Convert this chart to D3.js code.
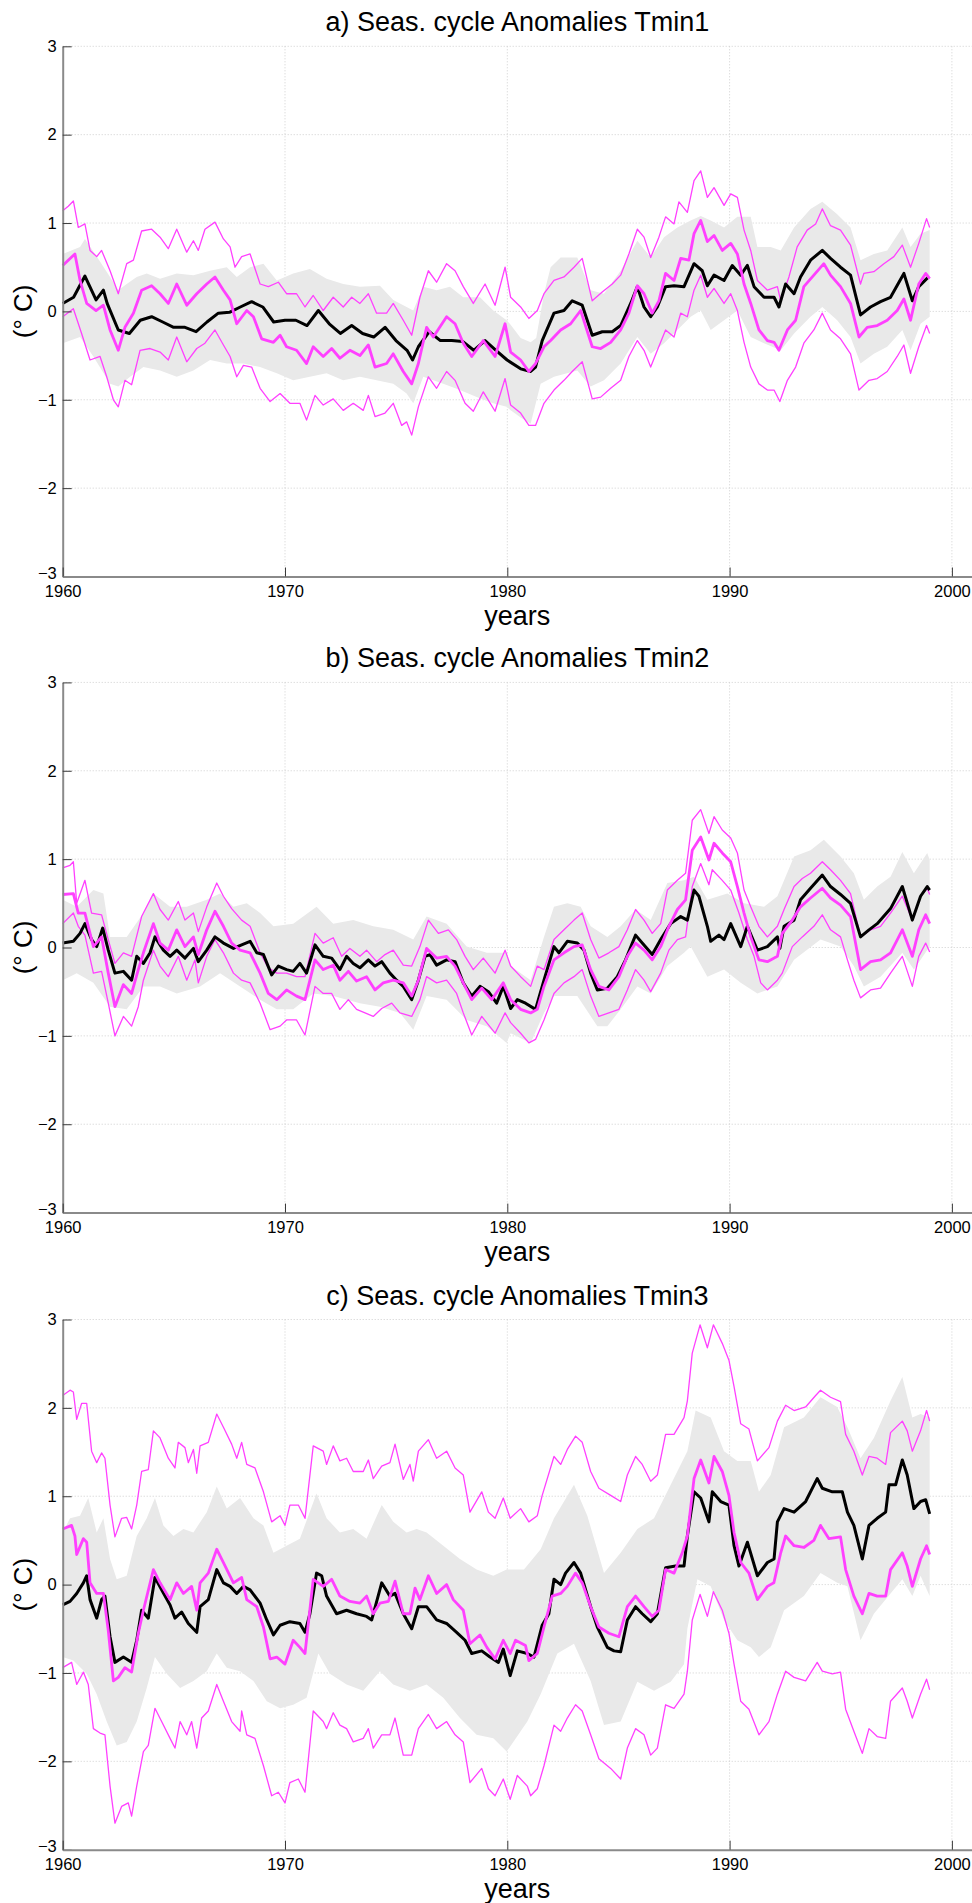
<!DOCTYPE html>
<html>
<head>
<meta charset="utf-8">
<script src="https://d3js.org/d3.v7.min.js"></script>
<style>
  body { margin: 0; background: #fff; }
  svg { display: block; }
  text { font-family: "Liberation Sans", Arial, Helvetica, sans-serif; fill: #000; }
</style>
</head>
<body>
<svg id="chart" width="972" height="1903"></svg>
<script>
// ---- data: [year, value in deg C] ----
var titles = ["a) Seas. cycle Anomalies Tmin1", "b) Seas. cycle Anomalies Tmin2", "c) Seas. cycle Anomalies Tmin3"];
var yTicks = [-3, -2, -1, 0, 1, 2, 3];
var xTicks = [1960, 1970, 1980, 1990, 2000];

// panel a
var obs1 = [[1960.0,0.09],[1960.49,0.16],[1961.0,0.4],[1961.5,0.13],[1961.83,0.24],[1962.0,0.09],[1962.5,-0.21],[1963.0,-0.25],[1963.49,-0.1],[1964.0,-0.06],[1964.5,-0.12],[1964.99,-0.18],[1965.5,-0.18],[1966.0,-0.23],[1966.49,-0.12],[1967.0,-0.02],[1967.5,-0.01],[1967.99,0.05],[1968.5,0.11],[1969.0,0.05],[1969.49,-0.12],[1970.0,-0.1],[1970.49,-0.1],[1970.99,-0.16],[1971.5,0.01],[1971.99,-0.14],[1972.49,-0.25],[1973.0,-0.16],[1973.49,-0.25],[1973.99,-0.29],[1974.5,-0.18],[1974.99,-0.33],[1975.49,-0.44],[1975.74,-0.55],[1976.0,-0.4],[1976.49,-0.23],[1976.99,-0.33],[1977.5,-0.33],[1977.99,-0.34],[1978.49,-0.44],[1979.0,-0.33],[1979.49,-0.44],[1979.99,-0.55],[1980.6,-0.65],[1981.05,-0.68],[1981.27,-0.63],[1981.57,-0.33],[1982.1,-0.02],[1982.55,0.01],[1982.92,0.12],[1983.37,0.07],[1983.82,-0.27],[1984.27,-0.23],[1984.72,-0.23],[1985.1,-0.16],[1985.55,0.09],[1985.85,0.28],[1986.15,0.05],[1986.45,-0.06],[1986.75,0.05],[1987.12,0.28],[1987.5,0.29],[1987.95,0.28],[1988.4,0.54],[1988.77,0.46],[1989.0,0.29],[1989.3,0.41],[1989.75,0.35],[1990.12,0.52],[1990.5,0.41],[1990.8,0.52],[1991.1,0.28],[1991.55,0.16],[1992.0,0.16],[1992.22,0.05],[1992.52,0.31],[1992.9,0.2],[1993.19,0.39],[1993.64,0.58],[1994.17,0.69],[1994.54,0.6],[1994.99,0.5],[1995.44,0.41],[1995.89,-0.04],[1996.34,0.05],[1996.79,0.11],[1997.24,0.16],[1997.84,0.43],[1998.22,0.12],[1998.51,0.28],[1998.95,0.39]];
var mod1 = [[1960.0,0.52],[1960.55,0.65],[1960.78,0.35],[1961.08,0.09],[1961.5,0.01],[1961.83,0.07],[1962.13,-0.21],[1962.5,-0.44],[1962.8,-0.18],[1963.18,-0.02],[1963.55,0.24],[1964.0,0.29],[1964.38,0.2],[1964.75,0.09],[1965.13,0.31],[1965.58,0.07],[1966.03,0.2],[1966.48,0.31],[1966.85,0.39],[1967.23,0.24],[1967.53,0.13],[1967.83,-0.14],[1968.28,0.01],[1968.58,-0.06],[1968.95,-0.31],[1969.48,-0.35],[1969.78,-0.27],[1970.07,-0.4],[1970.52,-0.44],[1970.97,-0.59],[1971.27,-0.4],[1971.72,-0.51],[1972.1,-0.42],[1972.47,-0.53],[1972.92,-0.44],[1973.37,-0.5],[1973.75,-0.38],[1974.05,-0.63],[1974.57,-0.59],[1974.87,-0.48],[1975.32,-0.68],[1975.7,-0.82],[1976.0,-0.59],[1976.37,-0.18],[1976.67,-0.29],[1977.27,-0.06],[1977.65,-0.14],[1978.02,-0.36],[1978.4,-0.51],[1978.92,-0.33],[1979.45,-0.51],[1979.9,-0.14],[1980.15,-0.46],[1980.6,-0.55],[1980.97,-0.68],[1981.27,-0.59],[1981.65,-0.4],[1981.95,-0.33],[1982.4,-0.21],[1982.85,-0.14],[1983.3,0.01],[1983.82,-0.4],[1984.2,-0.42],[1984.65,-0.35],[1985.1,-0.21],[1985.47,-0.02],[1985.85,0.29],[1986.15,0.2],[1986.52,-0.02],[1986.82,0.12],[1987.12,0.43],[1987.5,0.35],[1987.8,0.6],[1988.17,0.58],[1988.4,0.88],[1988.7,1.03],[1989.0,0.79],[1989.3,0.86],[1989.67,0.69],[1990.05,0.77],[1990.35,0.65],[1990.65,0.31],[1990.95,0.09],[1991.32,-0.21],[1991.7,-0.33],[1992.0,-0.35],[1992.22,-0.44],[1992.6,-0.21],[1992.97,-0.1],[1993.34,0.28],[1993.79,0.41],[1994.24,0.54],[1994.54,0.41],[1994.99,0.28],[1995.44,0.09],[1995.82,-0.29],[1996.19,-0.18],[1996.64,-0.16],[1997.09,-0.1],[1997.54,0.01],[1997.84,0.14],[1998.14,-0.1],[1998.51,0.31],[1998.82,0.43],[1999.0,0.37]];
var hi1 = [[1960.0,1.14],[1960.25,1.19],[1960.48,1.25],[1960.7,0.95],[1961.0,0.99],[1961.23,0.69],[1961.53,0.62],[1961.75,0.69],[1962.13,0.46],[1962.5,0.2],[1962.88,0.54],[1963.18,0.58],[1963.55,0.91],[1964.0,0.93],[1964.38,0.84],[1964.75,0.71],[1965.13,0.93],[1965.58,0.67],[1965.88,0.8],[1966.1,0.69],[1966.4,0.93],[1966.85,1.01],[1967.23,0.82],[1967.53,0.73],[1967.75,0.5],[1968.05,0.62],[1968.43,0.65],[1968.88,0.31],[1969.25,0.28],[1969.7,0.33],[1970.07,0.2],[1970.52,0.2],[1970.9,0.05],[1971.27,0.18],[1971.72,0.01],[1972.17,0.16],[1972.62,0.05],[1973.0,0.16],[1973.37,0.09],[1973.75,0.2],[1974.12,-0.02],[1974.57,-0.02],[1974.87,0.09],[1975.32,-0.1],[1975.7,-0.27],[1976.07,0.16],[1976.45,0.46],[1976.82,0.33],[1977.27,0.54],[1977.65,0.46],[1978.02,0.28],[1978.47,0.09],[1979.0,0.31],[1979.45,0.07],[1979.9,0.5],[1980.15,0.16],[1980.6,0.05],[1980.97,-0.08],[1981.35,0.01],[1981.65,0.2],[1982.1,0.35],[1982.55,0.39],[1983.0,0.5],[1983.37,0.6],[1983.82,0.12],[1984.27,0.22],[1984.72,0.31],[1985.1,0.41],[1985.47,0.65],[1985.85,0.93],[1986.15,0.84],[1986.45,0.61],[1986.82,0.84],[1987.12,1.07],[1987.5,0.99],[1987.72,1.24],[1988.1,1.12],[1988.4,1.48],[1988.7,1.59],[1989.0,1.29],[1989.3,1.4],[1989.75,1.2],[1990.05,1.33],[1990.35,1.29],[1990.65,0.92],[1990.95,0.69],[1991.25,0.35],[1991.7,0.24],[1992.15,0.28],[1992.3,0.12],[1992.67,0.39],[1993.04,0.73],[1993.49,0.92],[1993.87,0.99],[1994.17,1.16],[1994.54,0.97],[1994.99,0.92],[1995.44,0.75],[1995.89,0.31],[1996.04,0.43],[1996.49,0.45],[1996.94,0.54],[1997.39,0.62],[1997.77,0.75],[1998.14,0.5],[1998.51,0.77],[1998.86,1.05],[1999.0,0.95]];
var lo1 = [[1960.0,-0.06],[1960.48,0.03],[1960.85,-0.25],[1961.23,-0.55],[1961.68,-0.51],[1961.98,-0.74],[1962.28,-1.0],[1962.5,-1.08],[1962.8,-0.78],[1963.1,-0.83],[1963.48,-0.44],[1963.93,-0.42],[1964.38,-0.46],[1964.75,-0.55],[1965.13,-0.29],[1965.58,-0.57],[1966.03,-0.42],[1966.4,-0.36],[1966.85,-0.21],[1967.23,-0.38],[1967.53,-0.51],[1967.83,-0.74],[1968.13,-0.61],[1968.5,-0.63],[1968.88,-0.87],[1969.33,-1.02],[1969.78,-0.93],[1970.22,-1.04],[1970.67,-1.04],[1970.97,-1.23],[1971.35,-0.95],[1971.72,-1.06],[1972.17,-0.99],[1972.62,-1.12],[1973.07,-1.04],[1973.52,-1.12],[1973.75,-0.95],[1974.05,-1.19],[1974.5,-1.15],[1974.87,-1.04],[1975.25,-1.29],[1975.47,-1.25],[1975.7,-1.4],[1976.0,-1.08],[1976.45,-0.74],[1976.82,-0.87],[1977.27,-0.68],[1977.65,-0.78],[1978.1,-1.04],[1978.47,-1.13],[1978.92,-0.91],[1979.45,-1.13],[1979.9,-0.76],[1980.15,-1.06],[1980.6,-1.15],[1980.97,-1.29],[1981.27,-1.29],[1981.65,-1.04],[1982.1,-0.89],[1982.55,-0.78],[1982.92,-0.68],[1983.37,-0.57],[1983.82,-0.99],[1984.2,-0.97],[1984.65,-0.87],[1985.1,-0.78],[1985.47,-0.51],[1985.85,-0.33],[1986.15,-0.44],[1986.45,-0.63],[1986.75,-0.44],[1987.12,-0.21],[1987.5,-0.29],[1987.8,-0.02],[1988.1,-0.06],[1988.4,0.24],[1988.7,0.41],[1989.0,0.16],[1989.3,0.26],[1989.75,0.09],[1990.05,0.2],[1990.35,0.01],[1990.65,-0.35],[1990.95,-0.63],[1991.32,-0.82],[1991.7,-0.89],[1992.0,-0.89],[1992.26,-1.02],[1992.6,-0.78],[1992.97,-0.63],[1993.34,-0.36],[1993.79,-0.21],[1994.17,-0.02],[1994.54,-0.21],[1994.99,-0.31],[1995.44,-0.48],[1995.82,-0.89],[1996.27,-0.78],[1996.64,-0.76],[1997.09,-0.68],[1997.54,-0.51],[1997.84,-0.38],[1998.14,-0.7],[1998.51,-0.4],[1998.86,-0.16],[1999.0,-0.25]];
var bandUp1 = [[1960.0,0.65],[1960.78,0.73],[1961.0,0.82],[1961.53,0.62],[1962.13,0.39],[1962.5,0.24],[1962.88,0.31],[1963.33,0.39],[1963.78,0.43],[1964.38,0.37],[1965.13,0.43],[1965.88,0.41],[1966.63,0.46],[1967.38,0.5],[1967.83,0.39],[1968.43,0.5],[1969.03,0.54],[1969.63,0.35],[1970.37,0.43],[1971.12,0.48],[1971.87,0.37],[1972.62,0.31],[1973.37,0.28],[1974.27,0.29],[1974.87,0.13],[1975.47,0.05],[1975.77,0.01],[1976.22,0.28],[1976.82,0.24],[1977.42,0.28],[1978.02,0.16],[1978.77,0.16],[1979.37,0.01],[1979.97,-0.1],[1980.15,-0.15],[1980.6,-0.3],[1981.05,-0.35],[1981.3,-0.3],[1981.65,0.2],[1981.95,0.5],[1982.4,0.61],[1983.15,0.61],[1983.75,0.24],[1984.35,0.2],[1985.1,0.46],[1985.85,0.8],[1986.45,0.61],[1987.05,0.84],[1987.65,0.95],[1988.25,1.03],[1988.7,1.08],[1989.15,1.03],[1989.75,0.95],[1990.35,1.07],[1990.95,1.07],[1991.25,0.73],[1991.85,0.73],[1992.3,0.69],[1992.9,0.95],[1993.64,1.16],[1994.17,1.24],[1994.84,1.1],[1995.44,0.95],[1995.89,0.58],[1996.49,0.65],[1997.09,0.69],[1997.77,0.95],[1998.14,0.73],[1998.59,0.88],[1999.0,0.92]];
var bandLo1 = [[1960.0,-0.36],[1960.78,-0.29],[1961.38,-0.51],[1962.13,-0.82],[1962.5,-0.85],[1963.03,-0.74],[1963.63,-0.63],[1964.38,-0.67],[1965.13,-0.74],[1965.88,-0.67],[1966.63,-0.55],[1967.38,-0.59],[1968.13,-0.59],[1968.88,-0.63],[1969.63,-0.7],[1970.37,-0.78],[1971.12,-0.74],[1971.87,-0.7],[1972.62,-0.78],[1973.37,-0.74],[1974.12,-0.78],[1974.87,-0.82],[1975.47,-0.93],[1975.77,-1.04],[1976.22,-0.74],[1977.12,-0.82],[1977.87,-0.89],[1978.62,-0.97],[1979.37,-1.04],[1979.97,-1.08],[1980.15,-1.12],[1980.6,-1.2],[1981.05,-1.27],[1981.5,-0.82],[1982.1,-0.74],[1983.15,-0.67],[1983.75,-0.85],[1984.35,-0.78],[1985.1,-0.59],[1985.85,-0.29],[1986.45,-0.48],[1987.05,-0.36],[1987.65,-0.21],[1988.25,-0.06],[1988.7,0.01],[1989.15,-0.21],[1989.75,-0.1],[1990.35,0.01],[1990.95,-0.29],[1991.55,-0.36],[1992.3,-0.44],[1992.9,-0.25],[1993.64,-0.06],[1994.17,0.05],[1994.84,-0.1],[1995.44,-0.29],[1995.89,-0.59],[1996.49,-0.48],[1997.09,-0.4],[1997.77,-0.21],[1998.14,-0.44],[1998.59,-0.14],[1999.0,-0.06]];

// panel b
var obs2 = [[1960.0,0.05],[1960.48,0.07],[1960.78,0.16],[1961.0,0.27],[1961.3,0.09],[1961.53,0.01],[1961.8,0.22],[1962.05,-0.03],[1962.35,-0.29],[1962.73,-0.27],[1963.1,-0.37],[1963.33,-0.1],[1963.63,-0.18],[1963.93,-0.06],[1964.15,0.12],[1964.53,-0.03],[1964.83,-0.1],[1965.13,-0.03],[1965.5,-0.12],[1965.88,-0.01],[1966.1,-0.16],[1966.48,-0.03],[1966.85,0.12],[1967.23,0.05],[1967.68,-0.01],[1968.05,0.03],[1968.43,0.07],[1968.73,-0.06],[1969.03,-0.08],[1969.4,-0.31],[1969.7,-0.21],[1970.07,-0.25],[1970.37,-0.27],[1970.67,-0.18],[1970.97,-0.29],[1971.35,0.03],[1971.72,-0.1],[1972.1,-0.12],[1972.47,-0.25],[1972.77,-0.1],[1973.07,-0.18],[1973.37,-0.23],[1973.75,-0.14],[1974.05,-0.21],[1974.35,-0.16],[1974.72,-0.29],[1975.02,-0.37],[1975.32,-0.44],[1975.7,-0.59],[1976.0,-0.37],[1976.3,-0.1],[1976.52,-0.08],[1976.82,-0.2],[1977.27,-0.14],[1977.65,-0.16],[1978.02,-0.4],[1978.4,-0.55],[1978.77,-0.44],[1979.15,-0.5],[1979.52,-0.63],[1979.82,-0.44],[1980.15,-0.69],[1980.45,-0.59],[1980.82,-0.63],[1981.27,-0.7],[1981.65,-0.37],[1982.1,0.01],[1982.32,-0.06],[1982.7,0.07],[1983.15,0.05],[1983.45,-0.03],[1983.75,-0.29],[1984.05,-0.48],[1984.5,-0.46],[1984.95,-0.33],[1985.32,-0.14],[1985.77,0.14],[1986.07,0.05],[1986.52,-0.08],[1986.9,0.09],[1987.35,0.27],[1987.8,0.35],[1988.1,0.31],[1988.4,0.65],[1988.62,0.58],[1989.0,0.24],[1989.15,0.07],[1989.52,0.14],[1989.75,0.09],[1990.05,0.27],[1990.5,0.01],[1990.8,0.24],[1991.25,-0.03],[1991.7,0.01],[1992.15,0.12],[1992.26,-0.01],[1992.45,0.24],[1992.9,0.31],[1993.19,0.54],[1993.64,0.67],[1994.17,0.82],[1994.54,0.69],[1994.99,0.6],[1995.44,0.5],[1995.89,0.12],[1996.27,0.2],[1996.64,0.27],[1997.24,0.44],[1997.77,0.69],[1998.22,0.31],[1998.59,0.58],[1998.89,0.69],[1999.0,0.65]];
var mod2 = [[1960.0,0.6],[1960.48,0.61],[1960.7,0.39],[1961.0,0.39],[1961.38,0.01],[1961.75,0.12],[1962.05,-0.29],[1962.35,-0.67],[1962.73,-0.42],[1963.1,-0.52],[1963.4,-0.25],[1963.63,-0.06],[1964.08,0.27],[1964.38,0.05],[1964.75,-0.03],[1965.13,0.2],[1965.5,0.01],[1965.88,0.12],[1966.1,-0.08],[1966.48,0.2],[1966.85,0.41],[1967.23,0.24],[1967.6,0.05],[1967.98,-0.03],[1968.43,-0.06],[1968.88,-0.29],[1969.25,-0.52],[1969.63,-0.59],[1970.07,-0.48],[1970.52,-0.55],[1970.9,-0.59],[1971.35,-0.14],[1971.72,-0.25],[1972.17,-0.2],[1972.47,-0.37],[1972.85,-0.27],[1973.22,-0.38],[1973.67,-0.33],[1974.05,-0.48],[1974.42,-0.4],[1974.87,-0.37],[1975.32,-0.4],[1975.7,-0.55],[1976.0,-0.37],[1976.37,-0.01],[1976.82,-0.12],[1977.27,-0.1],[1977.65,-0.21],[1978.02,-0.4],[1978.4,-0.59],[1978.85,-0.46],[1979.3,-0.59],[1979.82,-0.4],[1980.15,-0.59],[1980.6,-0.7],[1981.05,-0.74],[1981.35,-0.7],[1981.65,-0.44],[1982.1,-0.14],[1982.55,-0.06],[1983.0,0.01],[1983.37,0.03],[1983.75,-0.25],[1984.12,-0.44],[1984.57,-0.48],[1985.02,-0.33],[1985.4,-0.1],[1985.77,0.05],[1986.15,-0.03],[1986.52,-0.14],[1986.9,0.01],[1987.27,0.24],[1987.65,0.43],[1988.02,0.54],[1988.32,1.1],[1988.7,1.25],[1989.07,0.99],[1989.3,1.18],[1989.67,1.07],[1990.05,0.97],[1990.35,0.69],[1990.65,0.39],[1990.95,0.12],[1991.32,-0.14],[1991.7,-0.16],[1992.15,-0.1],[1992.37,0.16],[1992.82,0.31],[1993.19,0.46],[1993.64,0.56],[1994.17,0.67],[1994.54,0.56],[1994.99,0.48],[1995.44,0.35],[1995.89,-0.25],[1996.34,-0.16],[1996.79,-0.14],[1997.24,-0.06],[1997.77,0.2],[1998.22,-0.1],[1998.51,0.2],[1998.82,0.37],[1999.0,0.27]];
var hi2 = [[1960.0,0.9],[1960.33,0.93],[1960.48,0.97],[1960.63,0.5],[1961.0,0.76],[1961.3,0.39],[1961.75,0.37],[1962.05,0.09],[1962.35,-0.18],[1962.73,-0.06],[1963.1,-0.1],[1963.55,0.35],[1964.08,0.61],[1964.38,0.43],[1964.75,0.31],[1965.2,0.52],[1965.5,0.31],[1965.88,0.39],[1966.1,0.18],[1966.48,0.46],[1966.93,0.73],[1967.23,0.58],[1967.6,0.44],[1968.05,0.31],[1968.43,0.24],[1968.88,-0.06],[1969.25,-0.23],[1969.63,-0.29],[1970.07,-0.29],[1970.52,-0.33],[1970.9,-0.33],[1971.35,0.16],[1971.72,0.05],[1972.17,0.11],[1972.55,-0.1],[1972.92,-0.01],[1973.37,-0.1],[1973.67,-0.03],[1974.12,-0.16],[1974.5,-0.08],[1974.87,-0.03],[1975.32,-0.2],[1975.7,-0.21],[1976.07,0.01],[1976.45,0.31],[1976.9,0.16],[1977.35,0.2],[1977.72,0.09],[1978.1,-0.1],[1978.47,-0.25],[1978.92,-0.12],[1979.45,-0.29],[1979.9,-0.03],[1980.15,-0.21],[1980.6,-0.33],[1981.05,-0.44],[1981.35,-0.21],[1981.65,-0.25],[1982.1,0.09],[1982.55,0.2],[1983.0,0.31],[1983.37,0.39],[1983.75,0.09],[1984.12,-0.12],[1984.57,-0.06],[1985.02,0.01],[1985.4,0.2],[1985.77,0.43],[1986.15,0.31],[1986.52,0.16],[1986.9,0.27],[1987.2,0.65],[1987.65,0.76],[1988.02,0.84],[1988.32,1.44],[1988.7,1.56],[1989.07,1.29],[1989.3,1.48],[1989.67,1.33],[1990.05,1.24],[1990.35,1.07],[1990.65,0.65],[1990.95,0.46],[1991.32,0.24],[1991.7,0.12],[1992.15,0.24],[1992.45,0.43],[1992.9,0.69],[1993.27,0.78],[1993.64,0.84],[1994.17,0.97],[1994.54,0.88],[1994.99,0.76],[1995.44,0.61],[1995.89,0.12],[1996.34,0.2],[1996.79,0.24],[1997.24,0.39],[1997.77,0.58],[1998.22,0.31],[1998.59,0.58],[1998.89,0.67],[1999.0,0.6]];
var lo2 = [[1960.0,0.27],[1960.48,0.39],[1960.7,0.24],[1961.0,0.14],[1961.38,-0.29],[1961.75,-0.27],[1962.05,-0.63],[1962.35,-1.0],[1962.73,-0.78],[1963.1,-0.89],[1963.4,-0.67],[1963.63,-0.37],[1964.08,-0.03],[1964.38,-0.21],[1964.75,-0.33],[1965.2,-0.1],[1965.58,-0.37],[1965.95,-0.14],[1966.1,-0.4],[1966.48,-0.1],[1966.85,0.09],[1967.23,-0.06],[1967.68,-0.29],[1968.05,-0.37],[1968.43,-0.4],[1968.88,-0.63],[1969.33,-0.93],[1969.78,-0.89],[1970.07,-0.82],[1970.52,-0.82],[1970.9,-0.99],[1971.35,-0.44],[1971.72,-0.52],[1972.1,-0.52],[1972.47,-0.7],[1972.85,-0.59],[1973.22,-0.7],[1973.6,-0.74],[1973.97,-0.78],[1974.35,-0.69],[1974.8,-0.63],[1975.17,-0.74],[1975.7,-0.78],[1976.07,-0.59],[1976.37,-0.33],[1976.82,-0.4],[1977.27,-0.37],[1977.72,-0.52],[1978.02,-0.74],[1978.4,-0.99],[1978.85,-0.78],[1979.45,-0.97],[1979.9,-0.74],[1980.15,-0.85],[1980.6,-0.97],[1980.97,-1.08],[1981.27,-1.04],[1981.65,-0.82],[1982.1,-0.52],[1982.55,-0.4],[1983.0,-0.33],[1983.37,-0.25],[1983.75,-0.55],[1984.12,-0.78],[1984.57,-0.74],[1985.02,-0.7],[1985.4,-0.48],[1985.77,-0.25],[1986.15,-0.37],[1986.45,-0.5],[1986.9,-0.29],[1987.27,-0.03],[1987.65,0.09],[1988.02,0.12],[1988.32,0.69],[1988.7,0.95],[1989.07,0.71],[1989.22,0.88],[1989.67,0.76],[1990.05,0.65],[1990.42,0.39],[1990.8,0.09],[1991.1,-0.1],[1991.4,-0.4],[1991.7,-0.48],[1992.15,-0.37],[1992.37,-0.29],[1992.82,0.01],[1993.27,0.12],[1993.79,0.24],[1994.17,0.37],[1994.54,0.2],[1994.99,0.12],[1995.3,-0.14],[1995.59,-0.37],[1995.89,-0.57],[1996.34,-0.48],[1996.79,-0.46],[1997.24,-0.29],[1997.77,-0.1],[1998.22,-0.44],[1998.51,-0.1],[1998.82,0.05],[1999.0,-0.05]];
var bandUp2 = [[1960.0,0.54],[1960.63,0.46],[1961.38,0.65],[1961.83,0.61],[1962.13,0.12],[1962.88,0.12],[1963.63,0.39],[1964.08,0.61],[1964.83,0.46],[1965.58,0.46],[1966.48,0.54],[1967.08,0.61],[1967.68,0.46],[1968.28,0.5],[1968.88,0.39],[1969.48,0.24],[1970.37,0.27],[1971.42,0.46],[1972.17,0.27],[1973.07,0.31],[1973.97,0.24],[1974.87,0.2],[1975.77,0.09],[1976.37,0.35],[1977.27,0.27],[1978.17,0.01],[1979.08,-0.06],[1979.97,-0.06],[1980.15,-0.21],[1981.05,-0.37],[1981.65,0.12],[1982.1,0.46],[1982.7,0.5],[1983.3,0.46],[1983.75,0.24],[1984.5,0.12],[1985.1,0.24],[1985.77,0.43],[1986.45,0.31],[1987.2,0.73],[1987.95,0.76],[1988.4,0.8],[1989.0,0.54],[1989.9,0.61],[1990.65,0.5],[1991.55,0.46],[1992.15,0.58],[1992.9,1.03],[1993.64,1.1],[1994.24,1.22],[1994.99,1.03],[1995.59,0.84],[1996.04,0.54],[1996.64,0.69],[1997.24,0.8],[1997.77,1.08],[1998.29,0.84],[1998.89,1.07],[1999.0,0.99]];
var bandLo2 = [[1960.0,-0.37],[1960.63,-0.29],[1961.38,-0.4],[1962.13,-0.67],[1962.88,-0.7],[1963.63,-0.44],[1964.38,-0.44],[1965.13,-0.52],[1966.18,-0.44],[1967.08,-0.29],[1967.98,-0.44],[1968.88,-0.59],[1969.63,-0.7],[1970.37,-0.7],[1971.27,-0.52],[1972.17,-0.55],[1973.37,-0.63],[1974.27,-0.67],[1975.17,-0.74],[1975.77,-0.93],[1976.37,-0.55],[1977.27,-0.59],[1978.17,-0.82],[1979.08,-0.89],[1979.97,-1.08],[1980.15,-0.97],[1981.05,-1.08],[1981.65,-0.74],[1982.1,-0.55],[1983.15,-0.55],[1984.05,-0.89],[1984.5,-0.89],[1985.1,-0.7],[1985.85,-0.44],[1986.45,-0.52],[1987.2,-0.21],[1987.95,-0.06],[1988.25,0.01],[1989.0,-0.33],[1989.75,-0.25],[1990.5,-0.4],[1991.25,-0.52],[1992.15,-0.44],[1992.9,-0.14],[1994.09,0.09],[1994.99,0.01],[1995.59,-0.21],[1996.04,-0.44],[1996.79,-0.33],[1997.77,-0.06],[1998.29,-0.25],[1999.0,0.01]];

// panel c
var obs3 = [[1960.0,-0.23],[1960.33,-0.19],[1960.63,-0.1],[1960.93,0.02],[1961.08,0.1],[1961.23,-0.17],[1961.53,-0.38],[1961.75,-0.17],[1961.9,-0.13],[1962.13,-0.59],[1962.35,-0.88],[1962.73,-0.82],[1963.1,-0.88],[1963.33,-0.63],[1963.55,-0.29],[1963.85,-0.38],[1964.15,0.08],[1964.45,-0.06],[1964.83,-0.23],[1965.05,-0.38],[1965.35,-0.31],[1965.65,-0.44],[1966.03,-0.54],[1966.18,-0.25],[1966.55,-0.17],[1966.93,0.17],[1967.23,0.02],[1967.53,-0.02],[1967.83,-0.1],[1968.13,-0.02],[1968.43,-0.06],[1968.88,-0.21],[1969.18,-0.4],[1969.48,-0.57],[1969.78,-0.46],[1970.22,-0.42],[1970.67,-0.44],[1970.9,-0.54],[1971.12,-0.33],[1971.42,0.13],[1971.65,0.1],[1971.87,-0.13],[1972.32,-0.33],[1972.77,-0.29],[1973.22,-0.33],[1973.67,-0.36],[1973.9,-0.4],[1974.35,0.02],[1974.72,-0.13],[1974.95,-0.1],[1975.32,-0.33],[1975.7,-0.5],[1976.0,-0.25],[1976.37,-0.25],[1976.82,-0.4],[1977.27,-0.44],[1977.72,-0.54],[1978.1,-0.63],[1978.4,-0.78],[1978.85,-0.75],[1979.22,-0.82],[1979.6,-0.88],[1979.82,-0.73],[1980.13,-1.03],[1980.45,-0.75],[1980.9,-0.78],[1981.2,-0.82],[1981.57,-0.46],[1981.87,-0.33],[1982.1,0.06],[1982.4,0.0],[1982.62,0.13],[1983.0,0.25],[1983.3,0.13],[1983.75,-0.25],[1984.05,-0.48],[1984.5,-0.71],[1984.8,-0.75],[1985.1,-0.76],[1985.4,-0.4],[1985.77,-0.25],[1986.07,-0.33],[1986.45,-0.42],[1986.75,-0.33],[1987.12,0.19],[1987.57,0.21],[1987.95,0.21],[1988.1,0.55],[1988.4,1.05],[1988.7,0.98],[1989.07,0.71],[1989.22,1.05],[1989.6,0.94],[1989.97,0.9],[1990.2,0.44],[1990.42,0.21],[1990.8,0.48],[1991.25,0.1],[1991.7,0.25],[1992.0,0.29],[1992.15,0.71],[1992.45,0.86],[1992.9,0.82],[1993.42,0.94],[1993.94,1.2],[1994.17,1.09],[1994.62,1.05],[1995.07,1.05],[1995.3,0.82],[1995.59,0.67],[1995.97,0.29],[1996.27,0.67],[1996.64,0.75],[1997.02,0.82],[1997.17,1.13],[1997.47,1.13],[1997.77,1.41],[1997.99,1.24],[1998.29,0.86],[1998.59,0.94],[1998.82,0.96],[1999.0,0.8]];
var mod3 = [[1960.0,0.63],[1960.4,0.67],[1960.55,0.55],[1960.63,0.34],[1960.93,0.52],[1961.08,0.48],[1961.23,0.02],[1961.53,-0.1],[1961.83,-0.1],[1962.05,-0.52],[1962.28,-1.09],[1962.5,-1.05],[1962.8,-0.94],[1963.1,-0.99],[1963.4,-0.55],[1963.63,-0.29],[1964.08,0.17],[1964.38,0.02],[1964.83,-0.17],[1965.13,0.02],[1965.43,-0.1],[1965.8,-0.02],[1966.03,-0.29],[1966.18,0.02],[1966.55,0.13],[1966.93,0.4],[1967.23,0.25],[1967.68,0.02],[1968.05,0.08],[1968.28,-0.17],[1968.73,-0.25],[1969.03,-0.48],[1969.33,-0.84],[1969.63,-0.82],[1970.0,-0.9],[1970.37,-0.63],[1970.67,-0.71],[1970.9,-0.78],[1971.27,0.06],[1971.72,-0.02],[1972.1,0.06],[1972.47,-0.13],[1972.92,-0.19],[1973.37,-0.21],[1973.67,-0.13],[1973.97,-0.33],[1974.27,-0.21],[1974.65,-0.19],[1974.95,0.04],[1975.32,-0.33],[1975.62,-0.33],[1975.85,-0.04],[1976.07,-0.17],[1976.45,0.1],[1976.82,-0.1],[1977.27,0.0],[1977.57,-0.17],[1978.02,-0.29],[1978.32,-0.67],[1978.77,-0.57],[1979.08,-0.71],[1979.45,-0.84],[1979.82,-0.63],[1980.13,-0.78],[1980.37,-0.63],[1980.82,-0.69],[1980.97,-0.86],[1981.35,-0.78],[1981.65,-0.48],[1982.02,-0.13],[1982.4,-0.1],[1982.7,-0.02],[1983.07,0.13],[1983.37,0.02],[1983.75,-0.25],[1984.12,-0.48],[1984.57,-0.55],[1985.02,-0.59],[1985.4,-0.25],[1985.77,-0.13],[1986.15,-0.25],[1986.52,-0.36],[1986.82,-0.29],[1987.12,0.17],[1987.5,0.13],[1987.87,0.36],[1988.1,0.55],[1988.4,1.2],[1988.7,1.41],[1989.07,1.15],[1989.3,1.45],[1989.67,1.28],[1989.97,1.01],[1990.2,0.59],[1990.5,0.25],[1990.87,0.13],[1991.25,-0.17],[1991.7,-0.02],[1991.99,0.02],[1992.3,0.36],[1992.52,0.55],[1992.9,0.44],[1993.34,0.42],[1993.79,0.5],[1994.09,0.67],[1994.47,0.52],[1994.99,0.54],[1995.22,0.17],[1995.59,-0.13],[1995.97,-0.33],[1996.27,-0.1],[1996.64,-0.13],[1997.02,-0.13],[1997.24,0.17],[1997.77,0.36],[1997.99,0.21],[1998.22,-0.02],[1998.59,0.29],[1998.86,0.44],[1999.0,0.34]];
var hi3 = [[1960.0,2.14],[1960.33,2.2],[1960.48,2.18],[1960.63,1.87],[1960.85,2.05],[1961.08,2.05],[1961.3,1.51],[1961.53,1.38],[1961.75,1.49],[1961.9,1.43],[1962.13,0.9],[1962.35,0.54],[1962.65,0.75],[1962.88,0.76],[1963.1,0.63],[1963.33,0.9],[1963.55,1.28],[1963.85,1.3],[1964.08,1.74],[1964.38,1.66],[1964.75,1.43],[1965.05,1.32],[1965.2,1.61],[1965.5,1.55],[1965.65,1.38],[1965.88,1.53],[1966.03,1.26],[1966.18,1.57],[1966.55,1.61],[1966.93,1.93],[1967.23,1.78],[1967.6,1.59],[1967.83,1.43],[1968.05,1.61],[1968.28,1.36],[1968.65,1.32],[1969.03,1.05],[1969.4,0.71],[1969.78,0.78],[1970.0,0.67],[1970.22,0.9],[1970.6,0.9],[1970.9,0.75],[1971.27,1.57],[1971.72,1.51],[1971.87,1.36],[1972.17,1.57],[1972.47,1.4],[1972.77,1.43],[1973.07,1.28],[1973.52,1.28],[1973.75,1.41],[1973.97,1.2],[1974.35,1.34],[1974.72,1.38],[1974.95,1.59],[1975.32,1.19],[1975.62,1.36],[1975.77,1.17],[1976.0,1.51],[1976.45,1.64],[1976.82,1.43],[1977.27,1.51],[1977.65,1.32],[1978.02,1.24],[1978.32,0.82],[1978.85,1.05],[1979.15,0.82],[1979.45,0.75],[1979.82,0.98],[1980.13,0.75],[1980.6,0.86],[1980.97,0.71],[1981.35,0.78],[1981.57,1.01],[1982.1,1.45],[1982.4,1.36],[1982.7,1.53],[1983.07,1.68],[1983.37,1.61],[1983.75,1.28],[1984.12,1.09],[1984.65,1.01],[1985.1,0.94],[1985.4,1.24],[1985.77,1.45],[1986.07,1.36],[1986.45,1.17],[1986.75,1.24],[1987.12,1.7],[1987.5,1.7],[1987.95,1.89],[1988.1,2.08],[1988.32,2.62],[1988.67,2.94],[1989.0,2.68],[1989.27,2.94],[1989.67,2.73],[1989.97,2.54],[1990.2,2.24],[1990.5,1.82],[1990.87,1.76],[1991.25,1.4],[1991.77,1.55],[1992.15,1.85],[1992.52,2.03],[1992.9,1.97],[1993.42,2.01],[1993.87,2.14],[1994.09,2.2],[1994.54,2.12],[1994.99,2.07],[1995.22,1.7],[1995.59,1.51],[1995.97,1.24],[1996.27,1.45],[1996.64,1.43],[1997.02,1.36],[1997.24,1.72],[1997.77,1.85],[1997.99,1.74],[1998.22,1.51],[1998.59,1.74],[1998.86,1.97],[1999.0,1.85]];
var lo3 = [[1960.0,-0.94],[1960.4,-0.88],[1960.63,-1.13],[1960.93,-0.99],[1961.15,-1.13],[1961.38,-1.63],[1961.68,-1.68],[1961.9,-1.7],[1962.13,-2.28],[1962.35,-2.7],[1962.65,-2.51],[1962.95,-2.47],[1963.1,-2.62],[1963.33,-2.28],[1963.63,-1.89],[1963.85,-1.82],[1964.15,-1.4],[1964.45,-1.55],[1964.83,-1.74],[1965.05,-1.85],[1965.28,-1.55],[1965.58,-1.7],[1965.8,-1.55],[1966.03,-1.85],[1966.25,-1.51],[1966.55,-1.43],[1966.93,-1.13],[1967.23,-1.32],[1967.6,-1.55],[1967.98,-1.66],[1968.05,-1.43],[1968.28,-1.7],[1968.65,-1.74],[1969.03,-2.05],[1969.4,-2.39],[1969.7,-2.35],[1970.0,-2.47],[1970.22,-2.24],[1970.6,-2.2],[1970.9,-2.35],[1971.27,-1.43],[1971.72,-1.55],[1971.87,-1.63],[1972.17,-1.45],[1972.47,-1.59],[1972.77,-1.63],[1973.07,-1.78],[1973.52,-1.74],[1973.75,-1.63],[1973.97,-1.85],[1974.35,-1.7],[1974.72,-1.7],[1974.95,-1.51],[1975.32,-1.93],[1975.7,-1.93],[1976.0,-1.63],[1976.45,-1.47],[1976.82,-1.63],[1977.27,-1.55],[1977.65,-1.7],[1978.02,-1.78],[1978.32,-2.24],[1978.85,-2.08],[1979.15,-2.31],[1979.45,-2.39],[1979.82,-2.2],[1980.13,-2.43],[1980.45,-2.16],[1980.9,-2.28],[1981.05,-2.39],[1981.35,-2.31],[1981.65,-2.05],[1982.1,-1.59],[1982.4,-1.66],[1982.7,-1.51],[1983.07,-1.36],[1983.37,-1.43],[1983.75,-1.7],[1984.12,-1.97],[1984.65,-2.08],[1985.1,-2.2],[1985.4,-1.85],[1985.77,-1.63],[1986.15,-1.7],[1986.45,-1.93],[1986.75,-1.85],[1987.12,-1.36],[1987.5,-1.4],[1987.95,-1.24],[1988.1,-0.98],[1988.32,-0.4],[1988.67,-0.11],[1989.0,-0.36],[1989.27,-0.08],[1989.67,-0.29],[1989.97,-0.55],[1990.2,-0.9],[1990.5,-1.32],[1990.87,-1.41],[1991.32,-1.7],[1991.77,-1.55],[1992.15,-1.24],[1992.52,-0.98],[1992.9,-1.05],[1993.42,-1.09],[1993.94,-0.88],[1994.17,-0.98],[1994.62,-1.01],[1994.99,-0.99],[1995.22,-1.41],[1995.59,-1.66],[1995.97,-1.91],[1996.27,-1.63],[1996.64,-1.72],[1997.02,-1.74],[1997.24,-1.32],[1997.77,-1.17],[1997.99,-1.32],[1998.22,-1.51],[1998.59,-1.24],[1998.86,-1.07],[1999.0,-1.19]];
var bandUp3 = [[1960.0,0.59],[1960.33,0.75],[1960.78,0.78],[1961.15,0.98],[1961.53,0.59],[1961.83,0.75],[1962.13,0.29],[1962.43,0.06],[1962.88,0.1],[1963.33,0.55],[1963.78,0.75],[1964.15,0.98],[1964.53,0.67],[1964.98,0.55],[1965.43,0.63],[1965.88,0.59],[1966.48,0.82],[1966.93,1.11],[1967.38,0.86],[1967.98,0.98],[1968.58,0.75],[1969.03,0.67],[1969.48,0.36],[1970.07,0.44],[1970.67,0.52],[1971.42,1.03],[1971.87,0.75],[1972.47,0.59],[1973.07,0.63],[1973.67,0.52],[1974.35,0.9],[1974.87,0.71],[1975.47,0.59],[1975.92,0.63],[1976.37,0.59],[1977.12,0.44],[1977.87,0.29],[1978.62,0.17],[1979.37,0.1],[1979.97,0.17],[1980.75,0.17],[1981.5,0.4],[1982.1,0.75],[1983.0,1.13],[1983.6,0.78],[1984.35,0.13],[1985.1,0.36],[1985.85,0.63],[1986.6,0.75],[1987.35,1.13],[1988.1,1.51],[1988.47,1.97],[1989.15,1.89],[1989.75,1.51],[1990.35,1.4],[1990.95,1.4],[1991.32,1.05],[1991.85,1.24],[1992.45,1.78],[1993.34,1.89],[1994.09,2.12],[1994.84,2.01],[1995.3,1.78],[1995.89,1.43],[1996.49,1.66],[1997.24,2.08],[1997.77,2.35],[1998.22,1.89],[1998.59,1.93],[1999.0,1.89]];
var bandLo3 = [[1960.0,-0.82],[1960.48,-0.86],[1961.08,-1.01],[1961.53,-1.24],[1961.98,-1.55],[1962.43,-1.82],[1962.88,-1.78],[1963.33,-1.55],[1963.78,-1.17],[1964.15,-0.82],[1964.68,-1.01],[1965.28,-1.17],[1965.88,-1.09],[1966.48,-0.98],[1966.93,-0.78],[1967.38,-0.94],[1967.98,-0.98],[1968.58,-1.09],[1969.18,-1.32],[1969.78,-1.4],[1970.37,-1.36],[1970.97,-1.28],[1971.5,-0.78],[1972.02,-1.01],[1972.77,-1.13],[1973.52,-1.2],[1974.27,-0.98],[1974.87,-1.13],[1975.62,-1.2],[1976.37,-1.13],[1977.12,-1.28],[1977.87,-1.51],[1978.62,-1.7],[1979.37,-1.74],[1979.97,-1.89],[1980.9,-1.55],[1981.5,-1.24],[1982.25,-0.78],[1983.0,-0.67],[1983.75,-1.09],[1984.35,-1.59],[1985.1,-1.55],[1985.85,-1.1],[1986.6,-1.2],[1987.35,-1.1],[1987.95,-0.9],[1988.1,-0.5],[1988.55,0.06],[1989.15,-0.02],[1989.75,-0.4],[1990.35,-0.63],[1990.95,-0.71],[1991.32,-0.82],[1991.85,-0.71],[1992.45,-0.29],[1993.34,-0.13],[1994.09,0.13],[1994.84,0.02],[1995.3,-0.02],[1995.89,-0.63],[1996.49,-0.33],[1997.24,-0.1],[1997.77,0.06],[1998.22,-0.13],[1998.59,0.1],[1999.0,-0.13]];

// ---- layout ----
var svg = d3.select("#chart");
var left = 62.7, right = 972, plotH = 530.2;
var pxPerYear = 22.23;
var panelTops = [46.3, 682.4, 1319.5];

var panels = [
  { title: titles[0], obs: obs1, mod: mod1, hi: hi1, lo: lo1, up: bandUp1, dn: bandLo1 },
  { title: titles[1], obs: obs2, mod: mod2, hi: hi2, lo: lo2, up: bandUp2, dn: bandLo2 },
  { title: titles[2], obs: obs3, mod: mod3, hi: hi3, lo: lo3, up: bandUp3, dn: bandLo3 }
];

var x = d3.scaleLinear()
  .domain([1960, 1960 + (right - left) / pxPerYear])
  .range([left, right]);

var magenta = "#ff40ff";

panels.forEach(function(p, i) {
  var top = panelTops[i];
  var bottom = top + plotH;
  var y = d3.scaleLinear().domain([-3, 3]).range([bottom, top]);
  var g = svg.append("g");

  // grid (dotted)
  g.selectAll(".hgrid").data(yTicks.filter(function(d) { return d > -3; }))
    .enter().append("line")
    .attr("x1", left).attr("x2", right)
    .attr("y1", function(d) { return y(d); }).attr("y2", function(d) { return y(d); })
    .attr("stroke", "#cfcfcf").attr("stroke-width", 1).attr("stroke-dasharray", "1,2");
  g.selectAll(".vgrid").data(xTicks.filter(function(d) { return d > 1960; }))
    .enter().append("line")
    .attr("x1", function(d) { return x(d); }).attr("x2", function(d) { return x(d); })
    .attr("y1", top).attr("y2", bottom)
    .attr("stroke", "#cfcfcf").attr("stroke-width", 1).attr("stroke-dasharray", "1,2");

  // spread band: upper edge forward, lower edge back
  var line = d3.line().x(function(d) { return x(d[0]); }).y(function(d) { return y(d[1]); });
  var ring = p.up.concat(p.dn.slice().reverse());
  g.append("path").attr("d", line(ring) + "Z").attr("fill", "#e9e9e9").attr("stroke", "none");

  // thin magenta bounds
  [p.hi, p.lo].forEach(function(s) {
    g.append("path").attr("d", line(s)).attr("fill", "none")
      .attr("stroke", magenta).attr("stroke-width", 1.3).attr("stroke-linejoin", "round");
  });
  // observed (black) and model (thick magenta)
  g.append("path").attr("d", line(p.obs)).attr("fill", "none")
    .attr("stroke", "#000").attr("stroke-width", 3).attr("stroke-linejoin", "round");
  g.append("path").attr("d", line(p.mod)).attr("fill", "none")
    .attr("stroke", magenta).attr("stroke-width", 2.8).attr("stroke-linejoin", "round");

  // axes
  var ya = g.append("g").attr("transform", "translate(" + left + ",0)")
    .call(d3.axisLeft(y).tickValues(yTicks).tickSize(-9).tickSizeOuter(0).tickPadding(6)
      .tickFormat(d3.format("d")));
  var xa = g.append("g").attr("transform", "translate(0," + bottom + ")")
    .call(d3.axisBottom(x).tickValues(xTicks).tickSize(-9).tickSizeOuter(0).tickPadding(9)
      .tickFormat(d3.format("d")));
  [ya, xa].forEach(function(a) {
    a.select(".domain").attr("stroke", "#8a8a8a").attr("stroke-width", 2);
    a.selectAll(".tick line").attr("stroke", "#3a3a3a").attr("stroke-width", 1);
    a.selectAll(".tick text").attr("fill", "#000").style("font-size", "16.5px")
      .style("font-family", "'Liberation Sans', Arial, sans-serif");
  });
  // lift the bottom "-3" a little so it clears the "1960" under it
  ya.selectAll(".tick text").filter(function(d) { return d === -3; }).attr("dy", "0.12em");

  // labels
  g.append("text").attr("x", (left + right) / 2).attr("y", top - 15)
    .attr("text-anchor", "middle").style("font-size", "27px").text(p.title);
  g.append("text").attr("x", (left + right) / 2).attr("y", bottom + 48)
    .attr("text-anchor", "middle").style("font-size", "27px").text("years");
  g.append("text").attr("transform", "translate(32," + (top + plotH / 2) + ") rotate(-90)")
    .attr("text-anchor", "middle").style("font-size", "26px").text("(\u00B0 C)");
});
</script>
</body>
</html>
